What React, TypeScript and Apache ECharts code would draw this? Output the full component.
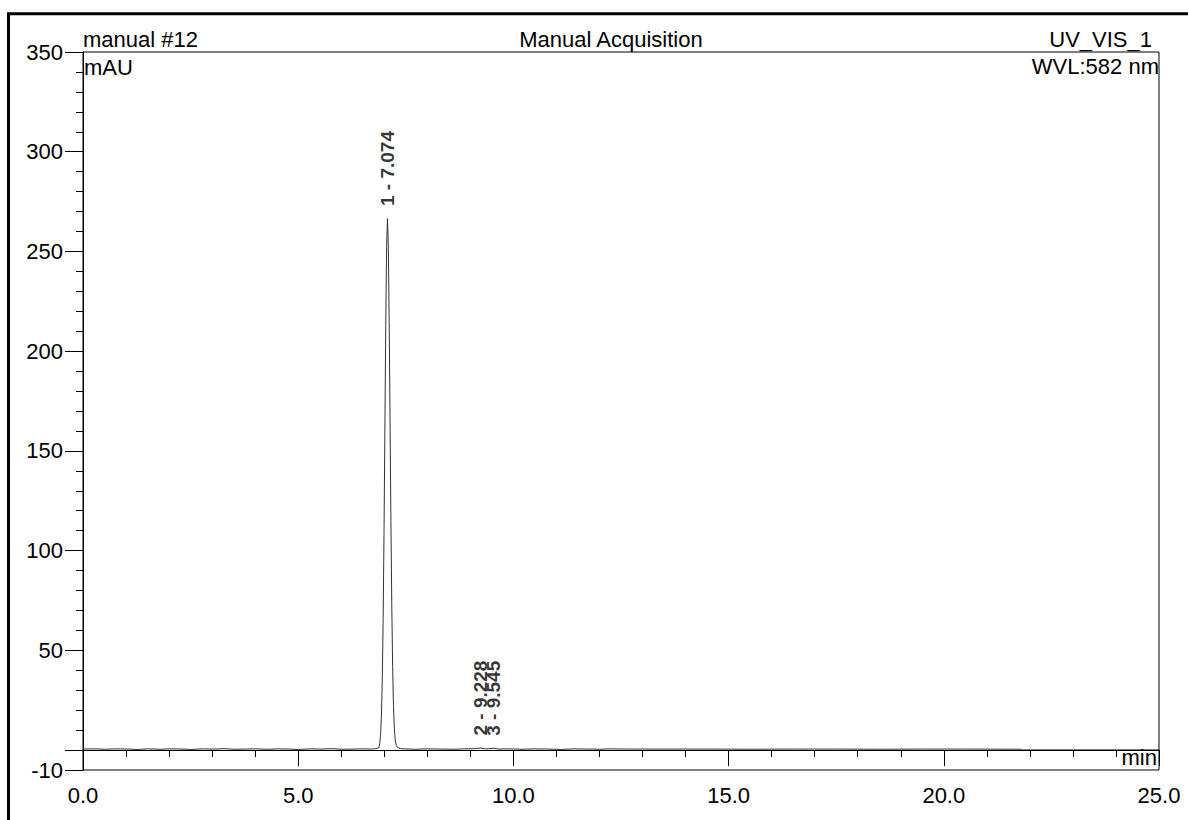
import { useEffect, useRef } from "react";
import * as echarts from "echarts";

const FONT = '"Liberation Sans", Arial, sans-serif';

// Retention time (min) and detector signal (mAU)
const retentionTimes = [
  0.0, 0.3, 0.5, 0.8, 1.0, 1.3, 1.5, 1.8, 2.0, 2.3, 2.5, 2.8, 3.0, 3.3, 3.5, 3.8,
  4.0, 4.3, 4.5, 4.8, 5.0, 5.3, 5.5, 5.8, 6.0, 6.3, 6.5, 6.7, 6.8,
  6.874, 6.894, 6.914, 6.934, 6.954, 6.974, 6.994, 7.014, 7.034, 7.054, 7.074,
  7.094, 7.114, 7.134, 7.154, 7.174, 7.194, 7.214, 7.234, 7.254, 7.28, 7.32, 7.38,
  7.5, 7.7, 8.0, 8.3, 8.6, 8.9, 9.1, 9.228, 9.35, 9.45, 9.545, 9.65, 9.9,
  10.2, 10.5, 10.8, 11.1, 11.4, 11.7, 12.0, 12.3, 12.6, 12.9, 13.5, 14.5,
  15.5, 16.5, 17.5, 18.5, 19.5, 20.5, 21.8,
];
const signalValues = [
  0.5, 0.6, 0.4, 0.6, 0.5, 0.3, 0.6, 0.4, 0.6, 0.5, 0.3, 0.6, 0.5, 0.7, 0.4, 0.5,
  0.6, 0.4, 0.6, 0.5, 0.3, 0.6, 0.5, 0.7, 0.4, 0.5, 0.6, 0.5, 0.7,
  1.2, 3.2, 7.8, 17.5, 36, 66, 109, 161, 213, 252, 266.5,
  253, 215, 165, 115, 73, 42, 22, 11, 5, 2.2, 1.1, 0.7,
  0.6, 0.4, 0.6, 0.5, 0.4, 0.6, 0.7, 1.0, 0.6, 0.7, 0.9, 0.5, 0.6,
  0.4, 0.6, 0.5, 0.3, 0.6, 0.5, 0.4, 0.6, 0.5, 0.5, 0.5, 0.5,
  0.4, 0.5, 0.5, 0.4, 0.5, 0.5, 0.4,
];
const tailTimes = [21.8, 25.0];
const tailValues = [0, 0];

const peakNames = ["1 - 7.074", "2 - 9.228", "3 - 9.545"];
const peakTimes = [7.074, 9.228, 9.545];
const peakHeights = [266.5, 1.0, 0.9];

const yLabelValues = [-10, 50, 100, 150, 200, 250, 300, 350];
const yMajorTickValues = [-10, 0, 50, 100, 150, 200, 250, 300, 350];
const xMajorValues = [0, 5, 10, 15, 20, 25];

export default function App() {
  const ref = useRef<HTMLDivElement>(null);
  useEffect(() => {
    const chart = echarts.init(ref.current!, null, { renderer: "svg" });
    const txt = { fontFamily: FONT, fontSize: 22, color: "#000" };
    chart.setOption({
      animation: false,
      backgroundColor: "#fff",
      grid: {
        left: 83,
        right: 29,
        top: 52,
        bottom: 50,
        show: true,
        borderColor: "#000",
        borderWidth: 1,
      },
      xAxis: [
        {
          type: "value",
          min: 0,
          max: 25,
          interval: 1,
          position: "bottom",
          axisLine: { show: true, lineStyle: { color: "#000", width: 1 } },
          axisTick: { show: true, length: 7, lineStyle: { color: "#000", width: 1 } },
          axisLabel: {
            ...txt,
            customValues: xMajorValues,
            margin: 14,
            formatter: (v: number) => v.toFixed(1),
          },
          splitLine: { show: false },
        },
        {
          type: "value",
          min: 0,
          max: 25,
          interval: 1,
          position: "bottom",
          axisLine: { show: false },
          axisTick: {
            show: true,
            length: 16,
            customValues: xMajorValues,
            lineStyle: { color: "#000", width: 1 },
          },
          axisLabel: { show: false },
          splitLine: { show: false },
        },
      ],
      yAxis: [
        {
          type: "value",
          min: -10,
          max: 350,
          interval: 10,
          position: "left",
          axisLine: { show: true, lineStyle: { color: "#000", width: 1 } },
          axisTick: { show: true, length: 7, lineStyle: { color: "#000", width: 1 } },
          axisLabel: { ...txt, customValues: yLabelValues, margin: 20 },
          splitLine: { show: false },
        },
        {
          type: "value",
          min: -10,
          max: 350,
          interval: 10,
          position: "left",
          axisLine: { show: false },
          axisTick: {
            show: true,
            length: 18,
            customValues: yMajorTickValues,
            lineStyle: { color: "#000", width: 1 },
          },
          axisLabel: { show: false },
          splitLine: { show: false },
        },
      ],
      series: [
        {
          type: "line",
          xAxisIndex: 0,
          yAxisIndex: 0,
          data: retentionTimes.map((t, i) => [t, signalValues[i]]),
          showSymbol: false,
          symbol: "none",
          lineStyle: { color: "#333", width: 1 },
        },
        {
          type: "line",
          xAxisIndex: 0,
          yAxisIndex: 0,
          data: tailTimes.map((t, i) => [t, tailValues[i]]),
          showSymbol: false,
          symbol: "none",
          lineStyle: { color: "#000", width: 1.3 },
        },
        {
          type: "scatter",
          xAxisIndex: 0,
          yAxisIndex: 0,
          symbolSize: 1,
          itemStyle: { color: "rgba(0,0,0,0)" },
          data: peakTimes.map((t, i) => ({ name: peakNames[i], value: [t, peakHeights[i]] })),
          label: {
            show: true,
            formatter: (p: any) => p.name,
            position: "top",
            distance: 12,
            rotate: 90,
            align: "left",
            verticalAlign: "middle",
            fontFamily: FONT,
            fontSize: 19,
            fontWeight: "bold",
            color: "#000",
          },
        },
      ],
      graphic: [
        {
          type: "rect",
          shape: { x: 8.5, y: 13.8, width: 1400, height: 1000 },
          style: { fill: "none", stroke: "#000", lineWidth: 3 },
          silent: true,
        },
        {
          type: "text",
          x: 83,
          y: 39,
          style: { text: "manual #12", font: `22px ${FONT}`, fill: "#000", align: "left", verticalAlign: "middle" },
        },
        {
          type: "text",
          x: 611,
          y: 39,
          style: { text: "Manual Acquisition", font: `22px ${FONT}`, fill: "#000", align: "center", verticalAlign: "middle" },
        },
        {
          type: "text",
          x: 1152,
          y: 39,
          style: { text: "UV_VIS_1", font: `22px ${FONT}`, fill: "#000", align: "right", verticalAlign: "middle" },
        },
        {
          type: "text",
          x: 84,
          y: 67,
          style: { text: "mAU", font: `22px ${FONT}`, fill: "#000", align: "left", verticalAlign: "middle" },
        },
        {
          type: "text",
          x: 1159,
          y: 66,
          style: { text: "WVL:582 nm", font: `22px ${FONT}`, fill: "#000", align: "right", verticalAlign: "middle" },
        },
        {
          type: "text",
          x: 1157,
          y: 757,
          style: { text: "min", font: `22px ${FONT}`, fill: "#000", align: "right", verticalAlign: "middle" },
        },
      ],
    });
    return () => chart.dispose();
  }, []);
  return (
    <div
      ref={ref}
      style={{ position: "fixed", left: 0, top: 0, width: 1188, height: 820, background: "#fff" }}
    />
  );
}
